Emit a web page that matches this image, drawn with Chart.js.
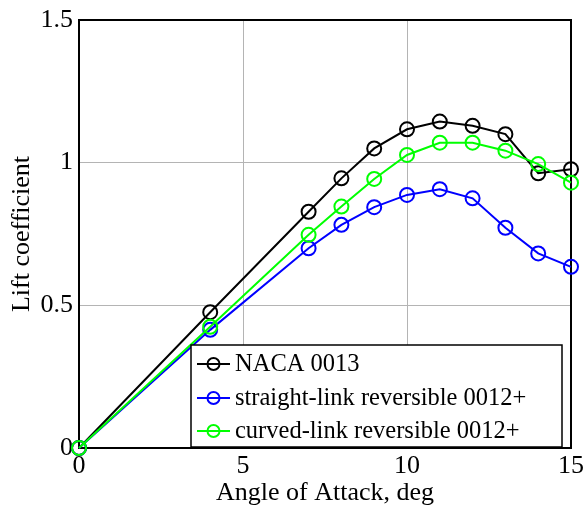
<!DOCTYPE html>
<html>
<head>
<meta charset="utf-8">
<script src="https://cdn.jsdelivr.net/npm/chart.js@4"></script>
<style>
  html, body { margin: 0; padding: 0; background: #fff; }
  #wrap { width: 584px; height: 512px; }
</style>
</head>
<body>
<div id="wrap"><canvas id="liftChart" width="584" height="512"></canvas></div>
<script>
// Angle of attack (deg)
const angles = [0, 4, 7, 8, 9, 10, 11, 12, 13, 14, 15];

// Lift coefficient for each airfoil
const naca0013 = [0, 0.476, 0.828, 0.945, 1.050, 1.117, 1.144, 1.129, 1.100, 0.963, 0.977];
const straightLink = [0, 0.414, 0.700, 0.782, 0.844, 0.887, 0.907, 0.875, 0.772, 0.682, 0.635];
const curvedLink = [0, 0.425, 0.747, 0.846, 0.943, 1.027, 1.070, 1.070, 1.042, 0.995, 0.930];

const seriesNames = ['NACA 0013', 'straight-link reversible 0012+', 'curved-link reversible 0012+'];
const seriesColors = ['#000000', '#0000ff', '#00ff00'];

const xTicks = [0, 5, 10, 15];
const yTicks = [0, 0.5, 1, 1.5];

const fontFamily = '"Liberation Serif", "Times New Roman", serif';

// Function to pair x and y values into points
function toPoints(ys) {
    return angles.map((x, i) => ({ x: x, y: ys[i] }));
}

// Function to build one line dataset
function makeDataset(label, ys, color, order) {
    return {
        label: label,
        data: toPoints(ys),
        borderColor: color,
        backgroundColor: 'rgba(0,0,0,0)',
        borderWidth: 2,
        pointRadius: 7,
        pointHoverRadius: 7,
        pointBorderWidth: 2,
        pointBorderColor: color,
        pointBackgroundColor: 'rgba(0,0,0,0)',
        tension: 0,
        clip: false,
        order: order
    };
}

// Frame around the plot area (Matlab-style box)
const framePlugin = {
    id: 'frame',
    beforeDatasetsDraw(chart) {
        const { ctx, chartArea: a } = chart;
        ctx.save();
        ctx.strokeStyle = '#000';
        ctx.lineWidth = 2;
        ctx.strokeRect(a.left, a.top, a.right - a.left, a.bottom - a.top);
        ctx.restore();
    }
};

// Legend box inside the plot, bottom right
const legendPlugin = {
    id: 'boxLegend',
    afterDraw(chart) {
        const { ctx } = chart;
        const box = { x: 191, y: 345, w: 371, h: 102 };
        ctx.save();
        ctx.fillStyle = '#fff';
        ctx.fillRect(box.x, box.y, box.w, box.h);
        ctx.strokeStyle = '#000';
        ctx.lineWidth = 1.5;
        ctx.strokeRect(box.x, box.y, box.w, box.h);
        ctx.font = '24.5px ' + fontFamily;
        ctx.textBaseline = 'middle';
        ctx.textAlign = 'left';
        const rowY = [364, 398, 431];
        seriesNames.forEach((name, i) => {
            const y = rowY[i];
            ctx.strokeStyle = seriesColors[i];
            ctx.lineWidth = 2;
            ctx.beginPath();
            ctx.moveTo(197, y);
            ctx.lineTo(230, y);
            ctx.stroke();
            ctx.beginPath();
            ctx.arc(213.5, y, 6, 0, Math.PI * 2);
            ctx.stroke();
            ctx.fillStyle = '#000';
            ctx.fillText(name, 235, y + 1);
        });
        ctx.restore();
    }
};

const ctx = document.getElementById('liftChart').getContext('2d');
new Chart(ctx, {
    type: 'line',
    data: {
        datasets: [
            makeDataset(seriesNames[0], naca0013, seriesColors[0], 3),
            makeDataset(seriesNames[1], straightLink, seriesColors[1], 2),
            makeDataset(seriesNames[2], curvedLink, seriesColors[2], 1)
        ]
    },
    options: {
        responsive: false,
        animation: false,
        layout: { padding: { top: 20, right: 13, left: 0, bottom: 0 } },
        plugins: {
            legend: { display: false },
            tooltip: { enabled: false }
        },
        scales: {
            x: {
                type: 'linear',
                min: 0,
                max: 15,
                afterBuildTicks: scale => { scale.ticks = xTicks.map(v => ({ value: v })); },
                afterFit: scale => {
                    scale.height = 64;
                    scale.paddingLeft = 0;
                    scale.paddingRight = 0;
                },
                grid: { color: '#b4b4b4', lineWidth: 1, drawTicks: false },
                border: { display: false },
                ticks: {
                    color: '#000',
                    padding: 3,
                    maxRotation: 0,
                    font: { family: fontFamily, size: 26 }
                },
                title: {
                    display: true,
                    text: 'Angle of Attack, deg',
                    color: '#000',
                    font: { family: fontFamily, size: 26 },
                    padding: { top: 0, bottom: 3 }
                }
            },
            y: {
                type: 'linear',
                min: 0,
                max: 1.5,
                afterBuildTicks: scale => { scale.ticks = yTicks.map(v => ({ value: v })); },
                afterFit: scale => {
                    scale.width = 79;
                    scale.paddingTop = 0;
                    scale.paddingBottom = 0;
                },
                grid: { color: '#b4b4b4', lineWidth: 1, drawTicks: false },
                border: { display: false },
                ticks: {
                    color: '#000',
                    padding: 6,
                    font: { family: fontFamily, size: 26 },
                    callback: v => String(v)
                },
                title: {
                    display: true,
                    text: 'Lift coefficient',
                    color: '#000',
                    font: { family: fontFamily, size: 26 },
                    padding: { top: 7, bottom: 0 }
                }
            }
        }
    },
    plugins: [framePlugin, legendPlugin]
});
</script>
</body>
</html>
